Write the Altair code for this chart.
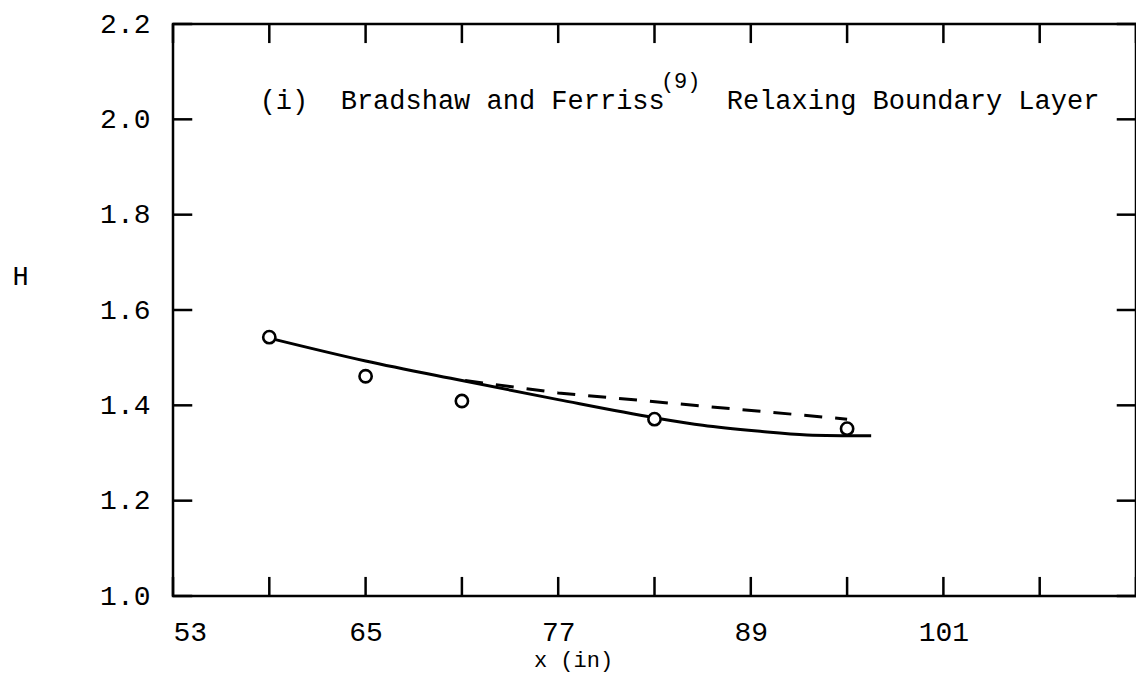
import altair as alt
import pandas as pd

# ---- data ----
obs_x = [59, 65, 71, 83, 95]
obs_H = [1.543, 1.461, 1.409, 1.371, 1.351]

solid_x = [59.0, 65.0, 71.0, 77.0, 83.0, 86.0, 89.4, 92.5, 96.5]
solid_H = [1.541, 1.493, 1.452, 1.412, 1.374, 1.358, 1.346, 1.338, 1.336]

dash_x = [71.2, 77.0, 83.2, 89.4, 95.0]
dash_H = [1.452, 1.426, 1.407, 1.388, 1.371]

x_ticks = [53, 59, 65, 71, 77, 83, 89, 95, 101, 107, 113]
x_labels = [53, 65, 77, 89, 101]
y_ticks = [1.0, 1.2, 1.4, 1.6, 1.8, 2.0, 2.2]

title_main = "(i)\u00a0\u00a0Bradshaw and Ferriss"
title_sup = "(9)"
title_rest = "Relaxing Boundary Layer"

X_MIN, X_MAX = 53, 113
Y_MIN, Y_MAX = 1.0, 2.2

FONT = "Liberation Mono"

# ---- tables ----
obs = pd.DataFrame({"x": obs_x, "y": obs_H})
solid = pd.DataFrame({"x": solid_x, "y": solid_H})
dash = pd.DataFrame({"x": dash_x, "y": dash_H})

xt_len = 0.04   # inward tick length in H units
yt_len = 1.2    # inward tick length in x units
rows = []
for v in x_ticks:
    rows.append({"x": v, "x2": v, "y": Y_MIN, "y2": Y_MIN + xt_len})
    rows.append({"x": v, "x2": v, "y": Y_MAX, "y2": Y_MAX - xt_len})
for v in y_ticks:
    rows.append({"x": X_MIN, "x2": X_MIN + yt_len, "y": v, "y2": v})
    rows.append({"x": X_MAX, "x2": X_MAX - yt_len, "y": v, "y2": v})
ticks = pd.DataFrame(rows)

texts = pd.DataFrame({
    "x": [58.4, 83.4, 87.5],
    "y": [2.022, 2.066, 2.022],
    "t": [title_main, title_sup, title_rest],
    "s": [27, 22, 27],
})

xs = alt.Scale(domain=[X_MIN, X_MAX], nice=False, zero=False)
ys = alt.Scale(domain=[Y_MIN, Y_MAX], nice=False, zero=False)

xaxis = alt.Axis(values=x_labels, title="x (in)", labelPadding=22,
                 titleX=400, titleY=63, titleAlign="center", titleBaseline="middle",
                 titleFontSize=22)
yaxis = alt.Axis(values=y_ticks, format=".1f", title="H", labelPadding=23,
                 titleAngle=0, titleX=-153, titleY=252, titleAlign="center",
                 titleBaseline="middle", titleFontSize=27)

X = alt.X("x:Q", scale=xs, axis=xaxis)
Y = alt.Y("y:Q", scale=ys, axis=yaxis)

tick_layer = alt.Chart(ticks).mark_rule(color="black", strokeWidth=2.5).encode(
    x=X, x2="x2:Q", y=Y, y2="y2:Q")

solid_layer = alt.Chart(solid).mark_line(color="black", strokeWidth=3, interpolate="monotone").encode(
    x=X, y=Y)

dash_layer = alt.Chart(dash).mark_line(color="black", strokeWidth=3, strokeDash=[18, 13]).encode(
    x=X, y=Y)

pts_layer = alt.Chart(obs).mark_point(shape="circle", size=150, filled=False, fill="white",
                                      fillOpacity=1, stroke="black", strokeWidth=2.6, opacity=1).encode(
    x=X, y=Y)

text_layer = alt.Chart(texts).mark_text(align="left", baseline="alphabetic", font=FONT,
                                        color="black").encode(
    x=X, y=Y, text="t:N", size=alt.Size("s:Q", scale=None, legend=None))

chart = alt.layer(tick_layer, solid_layer, dash_layer, pts_layer, text_layer).properties(
    width=963, height=572,
    autosize=alt.AutoSizeParams(type="none"),
    padding={"left": 165, "top": 16, "right": 0, "bottom": 79},
    background="white",
).configure_view(
    stroke="black", strokeWidth=2.5
).configure_axis(
    grid=False, domain=False, ticks=False, tickSize=0,
    labelFont=FONT, labelFontSize=28, labelColor="black",
    titleFont=FONT, titleColor="black", titleFontWeight="normal",
)

chart.save("out.html", embed_options={"renderer": "svg", "actions": False})
